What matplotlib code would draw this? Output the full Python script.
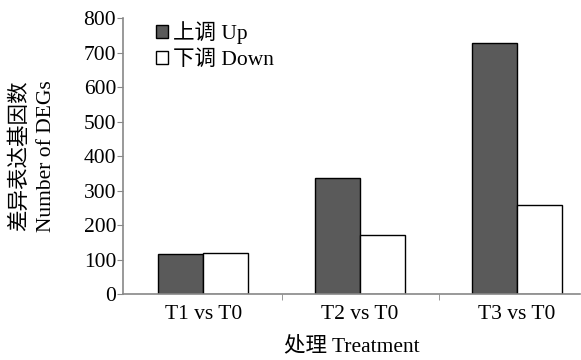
import numpy as np
import matplotlib
matplotlib.use('Agg')
import matplotlib.pyplot as plt
from matplotlib.patches import Patch

plt.rcParams['font.family'] = ['Liberation Serif', 'Noto Sans CJK SC']

groups = ['T1 vs T0', 'T2 vs T0', 'T3 vs T0']
up = [116, 337, 727]
down = [120, 172, 258]

fig = plt.figure(figsize=(5.81, 3.60), dpi=100)
ax = fig.add_axes([0.212, 0.183, 0.786, 0.767])

x = np.arange(len(groups))
w = 0.287
ax.bar(x - w / 2, up, w, color='#5a5a5a', edgecolor='black', linewidth=1)
ax.bar(x + w / 2, down, w, color='white', edgecolor='black', linewidth=1)

ax.set_xlim(-0.51, 2.40)
ax.set_ylim(0, 800)
ax.set_yticks(range(0, 801, 100))
ax.set_xticks(x)
ax.set_xticklabels(groups)
ax.set_xticks([0.5, 1.5], minor=True)
ax.tick_params(axis='x', which='major', length=0, labelsize=15.5, pad=8)
ax.tick_params(axis='x', which='minor', length=4, color='#888888')
ax.tick_params(axis='y', length=4, color='#888888', labelsize=15.5, pad=1)

for s in ['top', 'right']:
    ax.spines[s].set_visible(False)
for s in ['left', 'bottom']:
    ax.spines[s].set_color('#888888')
    ax.spines[s].set_linewidth(1.2)

ax.set_xlabel('处理 Treatment', fontsize=15.5, labelpad=9)
ax.set_ylabel('差异表达基因数\nNumber of DEGs', fontsize=15.5, labelpad=20,
              linespacing=1.5)

handles = [Patch(facecolor='#5a5a5a', edgecolor='black', label='上调 Up'),
           Patch(facecolor='white', edgecolor='black', label='下调 Down')]
ax.legend(handles=handles, loc='upper left', bbox_to_anchor=(0.03, 1.06),
          frameon=False, fontsize=15.5, handlelength=0.55, handleheight=0.55,
          handletextpad=0.25, labelspacing=0.3)

fig.savefig('out.png', dpi=100)
